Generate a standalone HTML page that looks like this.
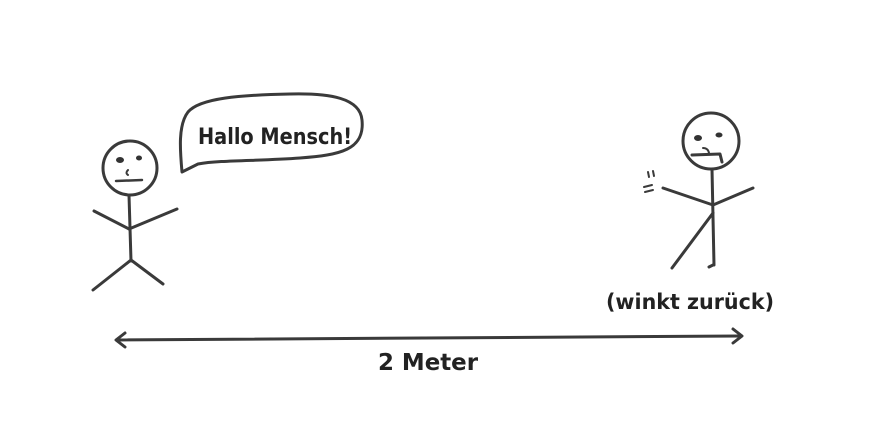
<!DOCTYPE html>
<html><head><meta charset="utf-8"><style>
html,body{margin:0;padding:0;background:#fff;width:873px;height:428px;overflow:hidden}
svg{display:block}
text{font-family:"Comic Sans MS","DejaVu Sans","Liberation Sans",sans-serif;fill:#222}
</style></head><body>
<svg width="873" height="428" viewBox="0 0 873 428" xmlns="http://www.w3.org/2000/svg">
<g fill="none" stroke="#3a3a3a" stroke-width="3" stroke-linecap="round" stroke-linejoin="round">
  <circle cx="130" cy="168" r="27"/>
  <line x1="129" y1="195" x2="131" y2="261"/>
  <path d="M94 211 L129 229 L177 209"/>
  <path d="M93 290 L131 260 L163 284"/>
  <path d="M116 181 L142 180" stroke-width="2.5"/>
  <path d="M128 170 q-3 3 0 5" stroke-width="2"/>
  <path d="M182 172 C180 150 178 125 188 112 C200 98 240 95 290 94 C330 93 360 98 362 120 C365 150 340 155 300 158 C260 161 220 160 198 164 Z"/>
  <circle cx="711" cy="141" r="28"/>
  <line x1="712" y1="169" x2="714" y2="265"/>
  <path d="M663 188 L713 205 L753 188"/>
  <path d="M713 213 L672 268"/>
  <path d="M713 265 L709 267"/>
  <path d="M692 155 L720 154 L722 162" stroke-width="3"/>
  <path d="M703 148 q5 0 6 5" stroke-width="2"/>
  <path d="M644 187 L652 185 M645 192 L653 190 M648 172 L649 177 M653 171 L654 176" stroke-width="2"/>
  <path d="M117 340 L740 336"/>
  <path d="M125 333 L116 340 L125 347"/>
  <path d="M733 329 L742 336 L733 343"/>
</g>
<g fill="#333">
  <ellipse cx="120" cy="160" rx="4" ry="3"/>
  <ellipse cx="139" cy="158" rx="3" ry="2.5"/>
  <ellipse cx="698" cy="138" rx="4" ry="3"/>
  <ellipse cx="719" cy="135" rx="3.5" ry="2.5"/>
</g>
<text x="198" y="144" font-size="22" font-weight="bold" textLength="154" lengthAdjust="spacingAndGlyphs">Hallo Mensch!</text>
<text x="606" y="309" font-size="21" font-weight="bold" textLength="168" lengthAdjust="spacingAndGlyphs">(winkt zurück)</text>
<text x="378" y="370" font-size="23" font-weight="bold" textLength="100" lengthAdjust="spacingAndGlyphs">2 Meter</text>
</svg>
</body></html>
